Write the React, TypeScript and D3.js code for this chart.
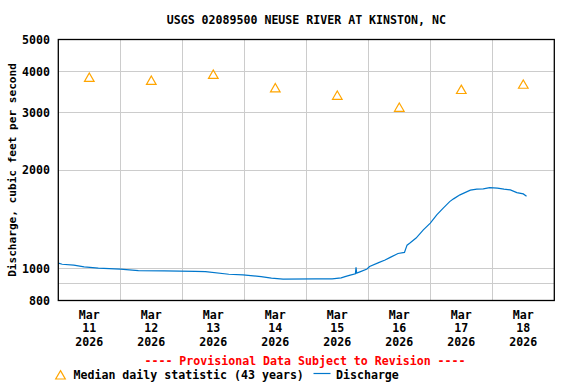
import * as d3 from "d3";

const W = 576;
const H = 384;
const left = 58.3;
const right = 554.3;
const top = 39.5;
const bottom = 300.5;

const title = "USGS 02089500 NEUSE RIVER AT KINSTON, NC";
const yTitle = "Discharge, cubic feet per second";
const yTicks = [800, 1000, 2000, 3000, 4000, 5000];
const yGrid = [900, 1000, 2000, 3000, 4000];

// median daily statistic, one per day (plotted at noon)
const medianDays = [11, 12, 13, 14, 15, 16, 17, 18];
const medianValues = [3800, 3720, 3880, 3530, 3350, 3080, 3490, 3620];

// discharge, hours after Mar 11 00:00
const flowHours = [
  0, 1.5, 6, 10, 15.5, 24, 31, 41, 53, 57, 66, 71.5, 78.5, 82.5, 87, 99.5,
  106, 109.5, 111, 113, 115, 115.25, 115.5, 117, 119.5, 120.5, 124, 126.5,
  128.5, 131.5, 134, 135, 136, 138.5, 141.3, 144, 146.5, 149, 151.5, 153,
  155.5, 159.5, 162, 164.5, 167, 170, 172.5, 175, 177.5, 180, 181.25,
];
const flowValues = [
  1040, 1032, 1025, 1013, 1004, 997, 987, 985, 982, 980, 962, 958, 946, 936,
  929, 931, 931, 938, 946, 956, 965, 1010, 970, 980, 998, 1016, 1044, 1063,
  1083, 1113, 1121, 1180, 1196, 1240, 1314, 1377, 1460, 1530, 1602, 1633,
  1680, 1736, 1748, 1752, 1768, 1760, 1748, 1740, 1707, 1691, 1664,
];

const start = new Date(Date.UTC(2026, 2, 11));
const end = new Date(Date.UTC(2026, 2, 19));

const font = "'DejaVu Sans Mono', monospace";

export default function App() {
  const x = d3.scaleUtc().domain([start, end]).range([left, right]);
  const y = d3.scaleLog().domain([800, 5000]).range([bottom, top]);

  const flow = flowHours.map((h, i) => ({
    t: d3.utcHour.offset(start, 0).getTime() + h * 3600e3,
    v: flowValues[i],
  }));
  const line = d3
    .line<{ t: number; v: number }>()
    .x((d) => x(new Date(d.t)))
    .y((d) => y(d.v));

  const days = d3.utcDay.range(start, end);
  const inner = days.slice(1);
  const tri = d3.symbol(d3.symbolTriangle, 40)() as string;
  const fmtM = d3.utcFormat("%b");
  const fmtD = d3.utcFormat("%d");
  const fmtY = d3.utcFormat("%Y");

  return (
    <svg
      width={W}
      height={H}
      style={{ position: "absolute", left: 0, top: 0, background: "#fff" }}
      fontFamily={font}
      fontWeight="bold"
    >
      <rect width={W} height={H} fill="#fff" />
      <text x={(left + right) / 2} y={24} textAnchor="middle" fontSize={11.6}>
        {title}
      </text>

      {/* grid */}
      <g stroke="#cccccc" strokeWidth={1} shapeRendering="crispEdges">
        {inner.map((d, i) => (
          <line key={i} x1={x(d)} x2={x(d)} y1={top} y2={bottom} />
        ))}
        {yGrid.map((v) => (
          <line key={v} x1={left} x2={right} y1={y(v)} y2={y(v)} />
        ))}
      </g>

      {/* y tick labels */}
      {yTicks.map((v) => (
        <text key={v} x={50} y={y(v) + 4.3} textAnchor="end" fontSize={11.6}>
          {v}
        </text>
      ))}
      <text
        transform={`translate(15.5,170) rotate(-90)`}
        textAnchor="middle"
        fontSize={11.1}
      >
        {yTitle}
      </text>

      {/* x tick labels at noon */}
      {days.map((d, i) => {
        const cx = x(d3.utcHour.offset(d, 12));
        return (
          <text key={i} textAnchor="middle" fontSize={11.6}>
            <tspan x={cx} y={319}>{fmtM(d)}</tspan>
            <tspan x={cx} y={332}>{String(+fmtD(d))}</tspan>
            <tspan x={cx} y={345.5}>{fmtY(d)}</tspan>
          </text>
        );
      })}

      {/* medians */}
      {medianDays.map((dd, i) => (
        <path
          key={dd}
          d={tri}
          transform={`translate(${x(new Date(Date.UTC(2026, 2, dd, 12)))},${y(medianValues[i])})`}
          fill="none"
          stroke="#ffa500"
          strokeWidth={1.2}
        />
      ))}

      {/* discharge */}
      <path d={line(flow) as string} fill="none" stroke="#0077cc" strokeWidth={1.2} />

      {/* frame */}
      <rect
        x={left}
        y={top}
        width={right - left}
        height={bottom - top}
        fill="none"
        stroke="#000"
        strokeWidth={1.3}
      />

      <text x={305} y={365} textAnchor="middle" fontSize={11.6} fill="#ff0000">
        ---- Provisional Data Subject to Revision ----
      </text>

      {/* legend */}
      <path
        d={tri}
        transform="translate(60.5,376.2)"
        fill="none"
        stroke="#ffa500"
        strokeWidth={1.2}
      />
      <text x={73.5} y={379} fontSize={11.6}>
        Median daily statistic (43 years)
      </text>
      <line x1={313.5} x2={330.5} y1={373.5} y2={373.5} stroke="#0077cc" strokeWidth={1.2} />
      <text x={336} y={379} fontSize={11.6}>
        Discharge
      </text>
    </svg>
  );
}
